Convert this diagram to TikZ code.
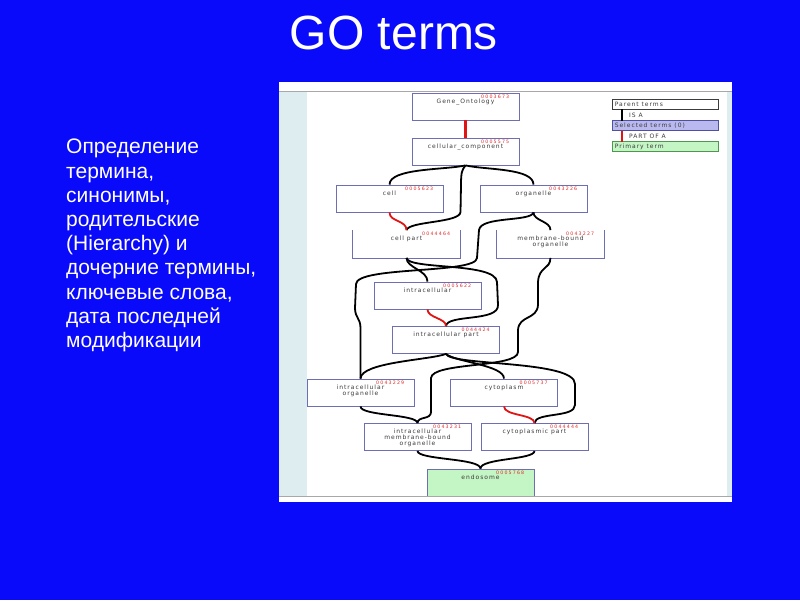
\documentclass[tikz,border=0pt]{standalone}
\usepackage{fontspec}
\setmainfont{Liberation Sans}
\newfontfamily\boxfont[LetterSpace=16]{DejaVu Sans}
\newfontfamily\idfont[LetterSpace=25]{DejaVu Sans}
\definecolor{slideblue}{RGB}{10,10,250}
\definecolor{panelcyan}{RGB}{222,238,240}
\definecolor{panelgray}{RGB}{168,168,168}
\definecolor{boxborder}{RGB}{110,110,180}
\definecolor{labelgray}{RGB}{60,60,60}
\definecolor{idred}{RGB}{225,40,40}
\definecolor{edgered}{RGB}{225,20,20}
\definecolor{selfill}{RGB}{185,185,240}
\definecolor{selborder}{RGB}{80,80,160}
\definecolor{primfill}{RGB}{196,245,196}
\definecolor{primborder}{RGB}{80,150,80}
\newcommand\goterm[6]{%
  \node[gobox,fill=#4] (#1) at (#2,#3) {};
  \node[golabel,anchor=north] at ([yshift=-6pt]#1.north) {#5};
  \node[goid,anchor=north east] at ([xshift=-10pt,yshift=-1.8pt]#1.north east) {#6};
}
\newcommand\gotermopen[5]{%
  \node[gobox,draw=none,fill=white] (#1) at (#2,#3) {};
  \draw[boxborder,line width=0.8pt] (#1.north west) -- (#1.south west) -- (#1.south east) -- (#1.north east);
  \node[golabel,anchor=north] at ([yshift=-6pt]#1.north) {#4};
  \node[goid,anchor=north east] at ([xshift=-10pt,yshift=-1.8pt]#1.north east) {#5};
}
\begin{document}
\begin{tikzpicture}[x=1pt,y=-1pt,
  gobox/.style={draw=boxborder,line width=0.8pt,minimum width=107pt,minimum height=27pt,inner sep=0pt},
  golabel/.style={font=\boxfont\fontsize{6}{6}\selectfont,text=labelgray,inner sep=0pt,align=center},
  goid/.style={font=\idfont\fontsize{4.7}{5}\selectfont,text=idred,inner sep=0pt},
  legtext/.style={font=\boxfont\fontsize{6}{6}\selectfont,text=labelgray,inner sep=0pt},
  isa/.style={line width=1.8pt,black},
  partof/.style={line width=1.8pt,edgered},
  legbox/.style={line width=0.8pt,minimum width=106pt,minimum height=10pt,inner sep=0pt}]
% background
\fill[slideblue] (0,0) rectangle (800,600);
\useasboundingbox (0,0) rectangle (800,600);
% panel
\fill[white] (279,82) rectangle (732,502);
\fill[panelcyan] (279,92) rectangle (732,496.5);
\fill[white] (307,92) rectangle (727,496.5);
% title
\node[font=\fontsize{48}{50}\selectfont,text=white,inner sep=0pt] (title) at (394,33) {GO terms};
% left text
\node[font=\fontsize{21}{24.2}\selectfont,text=white,align=left,anchor=north west,inner sep=0pt] (desc) at (66,139)
  {Определение\\термина,\\синонимы,\\родительские\\(Hierarchy) и\\дочерние термины,\\ключевые слова,\\дата последней\\модификации};
% boxes
\goterm{go}{465.5}{106.5}{white}{Gene\_Ontology}{0003673}
\goterm{cc}{465.5}{151.5}{white}{cellular\_component}{0005575}
\goterm{cell}{389.5}{198.5}{white}{cell}{0005623}
\goterm{org}{533.5}{198.5}{white}{organelle}{0043226}
\gotermopen{cellpart}{406.5}{244}{cell part}{0044464}
\gotermopen{mbo}{550.5}{244}{membrane-bound\\organelle}{0043227}
\goterm{intra}{427.5}{295.5}{white}{intracellular}{0005622}
\goterm{ipart}{446}{340}{white}{intracellular part}{0044424}
\goterm{io}{360.5}{392.5}{white}{intracellular\\organelle}{0043229}
\goterm{cyto}{504}{392.5}{white}{cytoplasm}{0005737}
\goterm{imbo}{417.5}{437}{white}{intracellular\\membrane-bound\\organelle}{0043231}
\goterm{cpart}{534.5}{437}{white}{cytoplasmic part}{0044444}
\goterm{endo}{480.5}{482.5}{primfill}{endosome}{0005768}
% edges
\draw[partof,line width=2.6pt] (go.south) -- (cc.north);
\draw[isa] (cc.south) .. controls (445,170) and (389.5,168) .. (cell.north);
\draw[isa] (cc.south) .. controls (486,170) and (533.5,168) .. (org.north);
\draw[isa] (cc.south) .. controls (462,170) and (461,172) .. (461,185) -- (460.5,212) .. controls (460,223) and (409,221) .. (cellpart.north);
\draw[partof] (cell.south) .. controls (389.5,222) and (406.5,220) .. (cellpart.north);
\draw[isa] (org.south) .. controls (533.5,221) and (550.5,221) .. (mbo.north);
\draw[isa] (org.south) .. controls (531,222) and (481,216) .. (479,230) -- (477,258) .. controls (476,274) and (357,266) .. (356,284) -- (355,308) .. controls (355,318) and (360.5,318) .. (360.5,328) -- (io.north);
\draw[isa] (cellpart.south) .. controls (406.5,268) and (427.5,270) .. (intra.north);
\draw[isa] (cellpart.south) .. controls (408,270) and (496,262) .. (497,282) -- (498,305) .. controls (499,322) and (447,314) .. (ipart.north);
\draw[partof] (intra.south) .. controls (427.5,318) and (446,318) .. (ipart.north);
\draw[isa] (mbo.south) .. controls (550,270) and (539,266) .. (538,282) -- (538,305) .. controls (537,320) and (519,315) .. (518,330) -- (518,352) .. controls (518,368) and (432,362) .. (431,378) -- (431,412) .. controls (431,420) and (417.5,416) .. (imbo.north);
\draw[isa] (ipart.south) .. controls (430,360) and (361,362) .. (io.north);
\draw[isa] (ipart.south) .. controls (455,362) and (504,365) .. (cyto.north);
\draw[isa] (ipart.south) .. controls (450,366) and (575,360) .. (575,384) -- (575,405) .. controls (575,418) and (535,412) .. (cpart.north);
\draw[partof] (cyto.south) .. controls (504,416) and (534.5,414) .. (cpart.north);
\draw[isa] (io.south) .. controls (360.5,416) and (417.5,414) .. (imbo.north);
\draw[isa] (imbo.south) .. controls (417.5,460) and (480.5,458) .. (endo.north);
\draw[isa] (cpart.south) .. controls (534.5,460) and (480.5,458) .. (endo.north);
% legend
\node[legbox,draw=labelgray,fill=white] (lparent) at (665,104.3) {};
\node[legtext,anchor=west] at ([xshift=3pt]lparent.west) {Parent terms};
\node[legbox,draw=selborder,fill=selfill] (lsel) at (665,125.7) {};
\node[legtext,anchor=west] at ([xshift=3pt]lsel.west) {Selected terms (0)};
\node[legbox,draw=primborder,fill=primfill] (lprim) at (665,146.5) {};
\node[legtext,anchor=west] at ([xshift=3pt]lprim.west) {Primary term};
\coordinate (isatop) at (621.7,109.3);
\coordinate (isabot) at (621.7,120.7);
\draw[black,line width=2pt] (isatop) -- (isabot);
\node[legtext,anchor=west] at (629,115) {IS A};
\coordinate (pofTop) at (621.7,130.7);
\coordinate (pofBot) at (621.7,141.7);
\draw[edgered,line width=2pt] (pofTop) -- (pofBot);
\node[legtext,anchor=west] at (629,136.2) {PART OF A};
% panel rules
\draw[panelgray,line width=1.5pt] (279,91.5) -- (732,91.5);
\draw[panelgray,line width=1.5pt] (279,496.5) -- (732,496.5);
\end{tikzpicture}
\end{document}
